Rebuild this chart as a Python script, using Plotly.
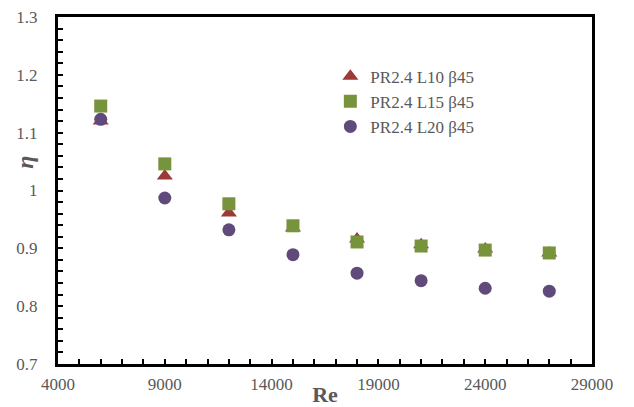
import plotly.graph_objects as go

re_vals = [6000, 9000, 12000, 15000, 18000, 21000, 24000, 27000]
eta_L10 = [1.120, 1.025, 0.961, 0.935, 0.916, 0.906, 0.899, 0.892]
eta_L15 = [1.146, 1.046, 0.977, 0.939, 0.911, 0.904, 0.897, 0.892]
eta_L20 = [1.123, 0.987, 0.932, 0.889, 0.857, 0.844, 0.831, 0.826]

names = ["PR2.4 L10 β45", "PR2.4 L15 β45", "PR2.4 L20 β45"]
x_ticks = list(range(4000, 29001, 1000))
y_ticks = [round(0.7 + 0.02 * i, 2) for i in range(31)]

font_family = "Liberation Serif, Times New Roman, serif"
gray = "#595959"

fig = go.Figure()
fig.add_trace(go.Scatter(x=re_vals, y=eta_L10, mode="markers", name=names[0],
                         marker=dict(symbol="triangle-up", size=14, color="#9B3A36")))
fig.add_trace(go.Scatter(x=re_vals, y=eta_L15, mode="markers", name=names[1],
                         marker=dict(symbol="square", size=13, color="#77933C")))
fig.add_trace(go.Scatter(x=re_vals, y=eta_L20, mode="markers", name=names[2],
                         marker=dict(symbol="circle", size=13, color="#604A7B")))

fig.update_layout(
    template="none",
    width=634, height=407,
    margin=dict(l=58, r=42, t=17, b=43, autoexpand=False),
    plot_bgcolor="white", paper_bgcolor="white",
    font=dict(family=font_family, size=17, color=gray),
    legend=dict(x=0.51, y=0.88, xanchor="left", yanchor="top",
                bgcolor="rgba(0,0,0,0)", font=dict(size=17, color=gray),
                itemwidth=30, tracegroupgap=0),
    showlegend=True,
    annotations=[dict(text="<b><i>η</i></b>", xref="paper", yref="paper",
                      x=0, y=0.58, xshift=-33, textangle=-90, showarrow=False,
                      xanchor="center", yanchor="middle",
                      font=dict(size=24, color=gray, family=font_family))],
)
fig.update_xaxes(
    range=[4000, 29000],
    tickvals=x_ticks,
    ticktext=[str(v) if (v - 4000) % 5000 == 0 else "" for v in x_ticks],
    showline=True, linecolor="rgb(0,0,0)", linewidth=3, mirror=True,
    ticks="inside", ticklen=5, tickcolor="rgb(0,0,0)", tickwidth=2,
    showgrid=False, zeroline=False, automargin=False,
    tickfont=dict(size=17, color=gray), ticklabelstandoff=3,
    title=dict(text="<b>Re</b>", font=dict(size=22, color=gray), standoff=0),
)
fig.update_yaxes(
    range=[0.7, 1.3],
    tickvals=y_ticks,
    ticktext=[("1" if abs(v - 1) < 1e-9 else f"{v:g}") if i % 5 == 0 else "" for i, v in enumerate(y_ticks)],
    showline=True, linecolor="rgb(0,0,0)", linewidth=3, mirror=True,
    ticks="inside", ticklen=5, tickcolor="rgb(0,0,0)", tickwidth=2,
    showgrid=False, zeroline=False, automargin=False,
    tickfont=dict(size=17, color=gray), ticklabelstandoff=14,
)

fig.write_html("out.html")
